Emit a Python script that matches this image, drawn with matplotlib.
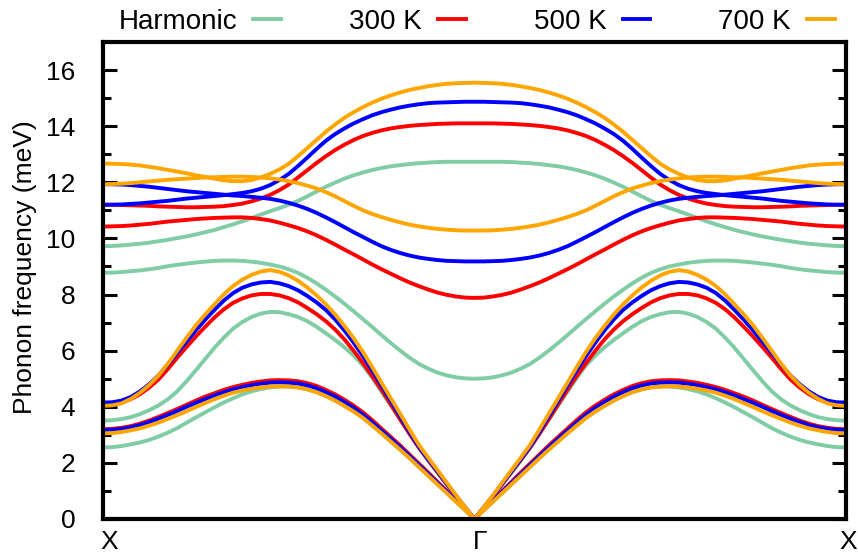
import matplotlib.pyplot as plt
from matplotlib.transforms import ScaledTranslation

plt.rcParams['font.family'] = ['Liberation Sans', 'DejaVu Sans']

# reduced wave vector along X -> Gamma (0 = X, 1 = Gamma); Gamma -> X is the mirror image
q = [0.000, 0.025, 0.050, 0.075, 0.100, 0.125, 0.150, 0.175, 0.200, 0.225,
     0.250, 0.275, 0.300, 0.325, 0.350, 0.375, 0.400, 0.425, 0.450, 0.475,
     0.500, 0.525, 0.550, 0.575, 0.600, 0.625, 0.650, 0.675, 0.700, 0.725,
     0.750, 0.775, 0.800, 0.825, 0.850, 0.875, 0.900, 0.925, 0.950, 0.975, 1.000]

# phonon branches in meV on the q grid
harm_ta = [2.55, 2.56, 2.60, 2.66, 2.73, 2.82, 2.94, 3.08, 3.24, 3.43,
           3.62, 3.80, 3.98, 4.15, 4.30, 4.44, 4.55, 4.63, 4.69, 4.72,
           4.72, 4.69, 4.62, 4.52, 4.38, 4.22, 4.03, 3.83, 3.60, 3.33,
           3.05, 2.76, 2.47, 2.17, 1.86, 1.55, 1.24, 0.93, 0.62, 0.31, 0.00]
harm_la = [3.50, 3.52, 3.56, 3.63, 3.74, 3.88, 4.05, 4.27, 4.55, 4.91,
           5.30, 5.70, 6.10, 6.46, 6.78, 7.02, 7.20, 7.32, 7.38, 7.37,
           7.30, 7.20, 7.05, 6.85, 6.62, 6.38, 6.12, 5.82, 5.47, 5.02,
           4.53, 4.04, 3.55, 3.04, 2.55, 2.10, 1.66, 1.23, 0.81, 0.40, 0.00]
harm_op1 = [8.78, 8.78, 8.80, 8.83, 8.86, 8.90, 8.95, 9.01, 9.06, 9.10,
            9.14, 9.17, 9.20, 9.21, 9.21, 9.20, 9.17, 9.13, 9.07, 9.00,
            8.90, 8.77, 8.60, 8.40, 8.17, 7.93, 7.67, 7.40, 7.12, 6.84,
            6.55, 6.27, 6.00, 5.75, 5.53, 5.36, 5.22, 5.12, 5.05, 5.01, 5.00]
harm_op2 = [9.72, 9.73, 9.75, 9.78, 9.81, 9.85, 9.90, 9.95, 10.01, 10.07,
            10.14, 10.22, 10.30, 10.40, 10.50, 10.61, 10.73, 10.85, 10.97, 11.08,
            11.20, 11.34, 11.50, 11.67, 11.84, 11.99, 12.13, 12.25, 12.35, 12.44,
            12.51, 12.57, 12.61, 12.65, 12.68, 12.70, 12.72, 12.73, 12.73, 12.73, 12.73]

t300_ta = [3.20, 3.21, 3.25, 3.31, 3.40, 3.51, 3.64, 3.78, 3.92, 4.07,
           4.22, 4.36, 4.48, 4.60, 4.70, 4.78, 4.85, 4.90, 4.94, 4.95,
           4.94, 4.91, 4.84, 4.74, 4.60, 4.44, 4.25, 4.04, 3.80, 3.52,
           3.22, 2.92, 2.62, 2.30, 1.98, 1.66, 1.33, 1.00, 0.67, 0.34, 0.00]
t300_la = [4.08, 4.09, 4.15, 4.27, 4.45, 4.69, 4.98, 5.35, 5.75, 6.13,
           6.50, 6.85, 7.18, 7.47, 7.70, 7.86, 7.97, 8.02, 8.02, 7.97,
           7.87, 7.72, 7.52, 7.30, 7.05, 6.75, 6.40, 5.99, 5.55, 5.09,
           4.60, 4.08, 3.55, 3.04, 2.55, 2.11, 1.68, 1.25, 0.82, 0.41, 0.00]
t300_op1 = [10.42, 10.43, 10.44, 10.46, 10.49, 10.52, 10.56, 10.60, 10.63, 10.66,
            10.69, 10.71, 10.73, 10.74, 10.75, 10.75, 10.73, 10.69, 10.64, 10.56,
            10.47, 10.37, 10.25, 10.11, 9.95, 9.78, 9.60, 9.43, 9.25, 9.07,
            8.90, 8.74, 8.58, 8.43, 8.30, 8.18, 8.07, 7.99, 7.93, 7.89, 7.88]
t300_op2 = [11.20, 11.20, 11.19, 11.18, 11.17, 11.16, 11.14, 11.13, 11.12, 11.11,
            11.11, 11.12, 11.13, 11.15, 11.19, 11.24, 11.32, 11.42, 11.55, 11.72,
            11.92, 12.17, 12.43, 12.69, 12.93, 13.15, 13.34, 13.51, 13.65, 13.76,
            13.85, 13.92, 13.97, 14.01, 14.04, 14.06, 14.08, 14.09, 14.10, 14.10, 14.10]

t500_ta = [3.17, 3.18, 3.21, 3.27, 3.35, 3.46, 3.58, 3.71, 3.85, 4.00,
           4.14, 4.27, 4.40, 4.52, 4.62, 4.70, 4.77, 4.82, 4.86, 4.87,
           4.86, 4.83, 4.76, 4.66, 4.52, 4.36, 4.17, 3.96, 3.72, 3.44,
           3.15, 2.86, 2.56, 2.25, 1.93, 1.61, 1.29, 0.97, 0.65, 0.33, 0.00]
t500_la = [4.15, 4.16, 4.22, 4.35, 4.55, 4.81, 5.12, 5.51, 5.92, 6.32,
           6.72, 7.10, 7.45, 7.78, 8.05, 8.24, 8.36, 8.43, 8.45, 8.40,
           8.30, 8.15, 7.95, 7.72, 7.45, 7.11, 6.72, 6.28, 5.80, 5.29,
           4.75, 4.20, 3.65, 3.10, 2.58, 2.13, 1.70, 1.26, 0.83, 0.41, 0.00]
t500_op1 = [11.93, 11.93, 11.92, 11.90, 11.87, 11.84, 11.80, 11.76, 11.72, 11.68,
            11.65, 11.62, 11.59, 11.56, 11.53, 11.51, 11.48, 11.45, 11.41, 11.35,
            11.27, 11.17, 11.05, 10.91, 10.75, 10.58, 10.40, 10.22, 10.05, 9.88,
            9.72, 9.59, 9.48, 9.39, 9.32, 9.27, 9.23, 9.20, 9.19, 9.18, 9.18]
t500_op2 = [11.20, 11.20, 11.21, 11.23, 11.25, 11.28, 11.31, 11.34, 11.38, 11.42,
            11.45, 11.48, 11.51, 11.54, 11.58, 11.62, 11.68, 11.77, 11.90, 12.08,
            12.30, 12.58, 12.88, 13.19, 13.48, 13.72, 13.92, 14.10, 14.25, 14.39,
            14.50, 14.59, 14.67, 14.73, 14.78, 14.82, 14.84, 14.85, 14.86, 14.87, 14.87]

t700_ta = [3.05, 3.06, 3.10, 3.16, 3.23, 3.33, 3.44, 3.57, 3.70, 3.84,
           3.99, 4.13, 4.27, 4.39, 4.50, 4.58, 4.64, 4.69, 4.72, 4.73,
           4.72, 4.69, 4.62, 4.52, 4.38, 4.22, 4.03, 3.83, 3.60, 3.33,
           3.05, 2.76, 2.47, 2.17, 1.86, 1.55, 1.24, 0.93, 0.62, 0.31, 0.00]
t700_la = [4.03, 4.05, 4.12, 4.28, 4.50, 4.78, 5.12, 5.54, 6.00, 6.46,
           6.90, 7.29, 7.65, 8.00, 8.30, 8.53, 8.70, 8.82, 8.87, 8.81,
           8.68, 8.49, 8.25, 7.97, 7.65, 7.29, 6.88, 6.44, 5.95, 5.41,
           4.85, 4.30, 3.75, 3.19, 2.65, 2.19, 1.75, 1.30, 0.85, 0.42, 0.00]
t700_op1 = [11.93, 11.94, 11.95, 11.97, 12.00, 12.03, 12.06, 12.09, 12.11, 12.13,
            12.15, 12.17, 12.18, 12.19, 12.20, 12.20, 12.19, 12.17, 12.14, 12.10,
            12.04, 11.97, 11.88, 11.78, 11.65, 11.50, 11.33, 11.16, 11.00, 10.87,
            10.76, 10.66, 10.57, 10.49, 10.43, 10.38, 10.34, 10.31, 10.29, 10.28, 10.28]
t700_op2 = [12.67, 12.66, 12.65, 12.63, 12.60, 12.55, 12.50, 12.44, 12.38, 12.32,
            12.25, 12.19, 12.13, 12.07, 12.04, 12.04, 12.08, 12.17, 12.30, 12.46,
            12.66, 12.93, 13.22, 13.51, 13.80, 14.06, 14.30, 14.50, 14.68, 14.84,
            14.98, 15.10, 15.20, 15.29, 15.36, 15.42, 15.47, 15.51, 15.53, 15.54, 15.55]

labels = ['Harmonic', '300 K', '500 K', '700 K']
colors = ['#7fcca5', '#ff0000', '#0000ff', '#ffa500']
branch_sets = [
    [harm_ta, harm_la, harm_op1, harm_op2],
    [t300_ta, t300_la, t300_op1, t300_op2],
    [t500_ta, t500_la, t500_op1, t500_op2],
    [t700_ta, t700_la, t700_op1, t700_op2],
]

# X -> Gamma -> X
path = q + [2 - v for v in q[::-1][1:]]

fig = plt.figure(figsize=(8.58, 5.54), dpi=100)
ax = fig.add_axes([0.120, 0.0632, 0.866, 0.861])

for name, col, branches in zip(labels, colors, branch_sets):
    for i, b in enumerate(branches):
        full = b + b[::-1][1:]
        ax.plot(path, full, color=col, lw=2.8, label=name if i == 0 else None)

ax.set_xlim(0, 2)
ax.set_ylim(0, 17)
ax.set_xticks([0, 1, 2])
ax.set_xticklabels(['X', 'Γ', 'X'])
ax.set_yticks(range(0, 17, 2))
ax.set_yticks(range(1, 18, 2), minor=True)
ax.set_ylabel('Phonon frequency (meV)', fontsize=19)
ax.yaxis.set_label_coords(-0.089, 0.527)

ax.tick_params(axis='y', which='both', direction='in', right=True, labelsize=19,
               width=2.2)
ax.tick_params(axis='y', which='major', length=10, pad=20)
ax.tick_params(axis='y', which='minor', length=5.5)
ax.tick_params(axis='x', length=0, labelsize=19, pad=8)
# x labels sit a little right of the tick position; the last one stays inside the figure
for lab, dx in zip(ax.get_xticklabels(), [6, 6, 2]):
    lab.set_transform(lab.get_transform() + ScaledTranslation(dx / 100, 0, fig.dpi_scale_trans))
for s in ax.spines.values():
    s.set_linewidth(3)

ax.legend(loc='center', bbox_to_anchor=(0.503, 1.042), ncol=4, frameon=False,
          fontsize=20, markerfirst=False, handlelength=1.0, handletextpad=0.58,
          columnspacing=2.45, borderaxespad=0)

fig.savefig('out.png', dpi=100)
